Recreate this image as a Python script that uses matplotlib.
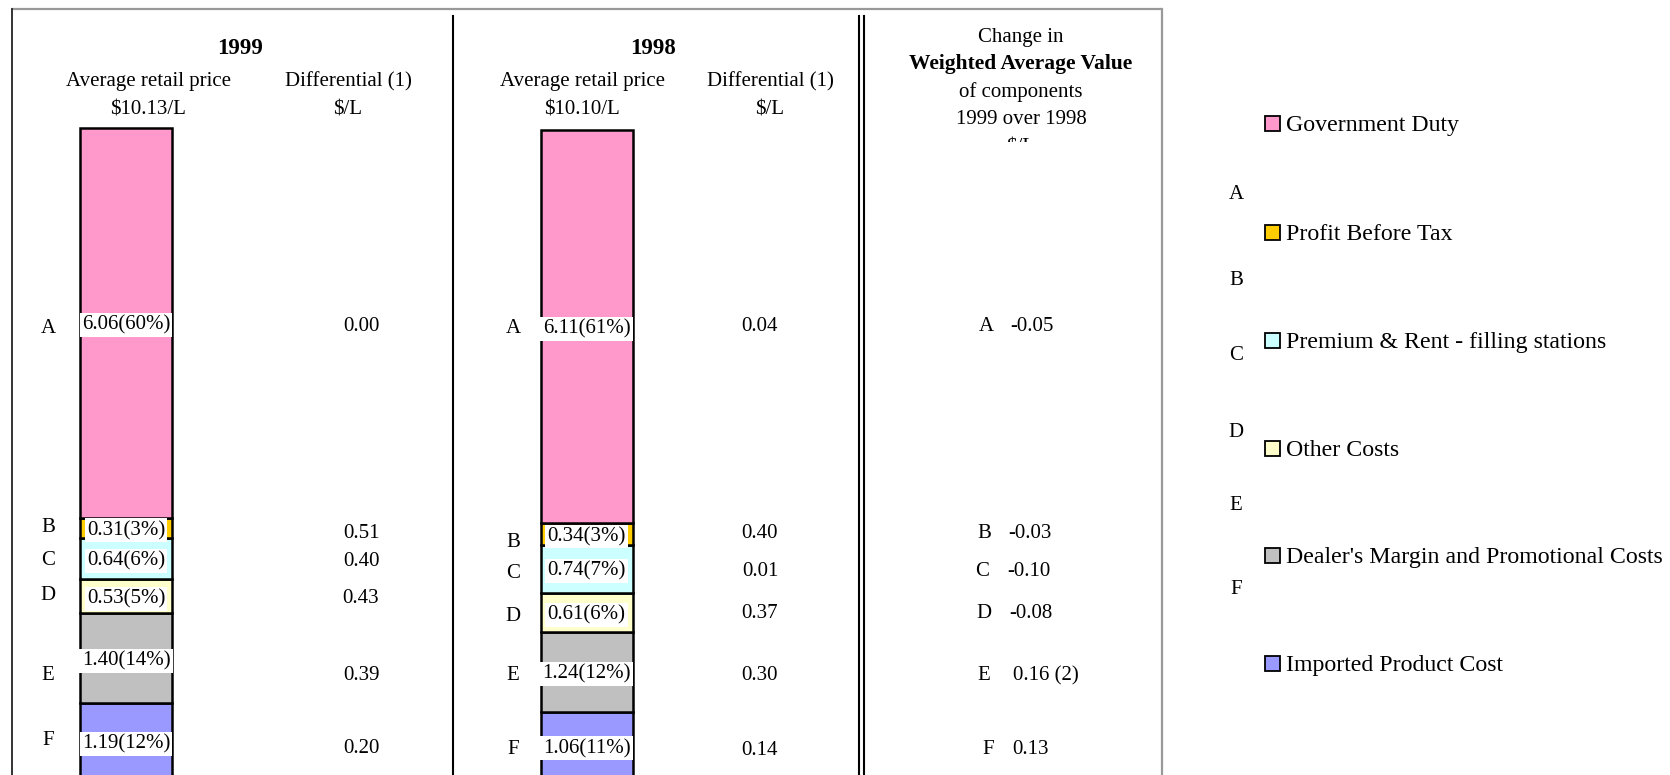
import matplotlib
matplotlib.use("Agg")
import matplotlib.pyplot as plt
from matplotlib.patches import Rectangle
from matplotlib.transforms import Bbox, TransformedBbox

plt.rcParams['font.family'] = ['Liberation Serif', 'DejaVu Serif']

# ---- data -------------------------------------------------------------
components = ["Government Duty", "Profit Before Tax",
              "Premium & Rent - filling stations", "Other Costs",
              "Dealer's Margin and Promotional Costs", "Imported Product Cost"]
letters = ["A", "B", "C", "D", "E", "F"]
colors = ["#FF99CC", "#FFCC00", "#CCFFFF", "#FFFFCC", "#C0C0C0", "#9999FF"]

years = ["1999", "1998"]
avg_price = ["$10.13/L", "$10.10/L"]
values_1999 = [6.06, 0.31, 0.64, 0.53, 1.40, 1.19]
pct_1999 = [60, 3, 6, 5, 14, 12]
values_1998 = [6.11, 0.34, 0.74, 0.61, 1.24, 1.06]
pct_1998 = [61, 3, 7, 6, 12, 11]
diff_1999 = ["0.00", "0.51", "0.40", "0.43", "0.39", "0.20"]
diff_1998 = ["0.04", "0.40", "0.01", "0.37", "0.30", "0.14"]
change = ["-0.05", "-0.03", "-0.10", "-0.08", "0.16 (2)", "0.13"]

# ---- figure -----------------------------------------------------------
W, H = 1670, 775
DPI = 100
fig = plt.figure(figsize=(W / DPI, H / DPI), dpi=DPI)
fig.patch.set_facecolor("white")

# bar axes: value units vertically, baseline just below the bottom edge
px_per_unit = 64.4
base_px = 780
ax = fig.add_axes([0, 0, 1, 1])
ax.set_xlim(0, W)
ax.set_ylim((base_px - H) / px_per_unit, base_px / px_per_unit)
ax.axis("off")

# overlay axes in pixel units for frame and text
ov = fig.add_axes([0, 0, 1, 1], zorder=5)
ov.set_xlim(0, W)
ov.set_ylim(H, 0)
ov.axis("off")
ov.patch.set_alpha(0)

FS = 15
BAR_W = 92
bar_x = [126, 586.5]

for xc, vals, pcts in [(bar_x[0], values_1999, pct_1999),
                       (bar_x[1], values_1998, pct_1998)]:
    bottom = 0.0
    # stack from the bottom component (F) up to the top one (A)
    for i in reversed(range(len(vals))):
        ax.bar(xc, vals[i], width=BAR_W, bottom=bottom, color=colors[i],
               edgecolor="black", linewidth=1.8, zorder=2)
        mid = bottom + vals[i] / 2
        ax.text(xc, mid, f"{vals[i]:.2f}({pcts[i]}%)", ha="center",
                va="center_baseline", fontsize=FS, zorder=4,
                bbox=dict(facecolor="white", edgecolor="none", pad=1.6))
        bottom += vals[i]

# ---- frame ------------------------------------------------------------
ov.plot([11, 1162], [9, 9], color="#999999", lw=1.6, solid_capstyle="butt")
ov.plot([11.5, 11.5], [9, H], color="#333333", lw=1.4)
ov.plot([1162, 1162], [9, H], color="#999999", lw=1.6)
ov.plot([453, 453], [16, H], color="black", lw=1.5)
ov.plot([859, 859], [16, H], color="black", lw=1.5)
ov.plot([864, 864], [16, H], color="black", lw=1.5)

def txt(x, y, s, **kw):
    kw.setdefault("fontsize", FS)
    kw.setdefault("ha", "center")
    kw.setdefault("va", "center_baseline")
    return ov.text(x, y, s, **kw)

# ---- column headers -----------------------------------------------------
for yr, price, xt, xp, xd in [(years[0], avg_price[0], 240, 148, 348),
                              (years[1], avg_price[1], 653, 582, 770)]:
    txt(xt, 46, yr, fontsize=16.5, fontweight="bold")
    txt(xp, 79, "Average retail price")
    txt(xp, 107, price)
    txt(xd, 79, "Differential (1)")
    txt(xd, 107, "$/L")

txt(1021, 35, "Change in")
txt(1021, 62, "Weighted Average Value", fontweight="bold", fontsize=15.5)
txt(1021, 90, "of components")
txt(1021, 117, "1999 over 1998")
unit = txt(1021, 146, "$/L")
clip = TransformedBbox(Bbox([[860, H - 142], [1160, H - 120]]),
                       matplotlib.transforms.IdentityTransform())
unit.set_clip_box(clip)
unit.set_clip_on(True)

# ---- row letters and differentials ----------------------------------------
rows_l99 = [326, 525, 558, 593, 673, 738]
rows_l98 = [326, 540, 571, 614, 673, 747]
rows_d99 = [324, 531, 559, 596, 673, 746]
rows_d98 = [324, 531, 569, 611, 673, 748]
rows_ch = [324, 531, 569, 611, 673, 747]
ch_letter_x = [986, 984, 982, 984, 984, 988]
ch_value_x = [1010, 1008, 1007, 1009, 1013, 1012]

for i, L in enumerate(letters):
    txt(48, rows_l99[i], L)
    txt(513, rows_l98[i], L)
    txt(361, rows_d99[i], diff_1999[i])
    txt(760, rows_d98[i], diff_1998[i])
    txt(ch_letter_x[i], rows_ch[i], L)
    txt(ch_value_x[i], rows_ch[i], change[i], ha="left")

# ---- legend -----------------------------------------------------------
leg_rows = [123, 232, 340, 448, 555, 663]
leg_letter_rows = [192, 278, 353, 430, 503, 587]
for i, name in enumerate(components):
    y = leg_rows[i]
    ov.add_patch(Rectangle((1265, y - 7.5), 15, 15, facecolor=colors[i],
                           edgecolor="black", linewidth=1.3, zorder=3))
    txt(1286, y, name, ha="left", fontsize=17.2)
    txt(1236, leg_letter_rows[i], letters[i], fontsize=FS)

fig.savefig("out.png", dpi=DPI, facecolor="white")
